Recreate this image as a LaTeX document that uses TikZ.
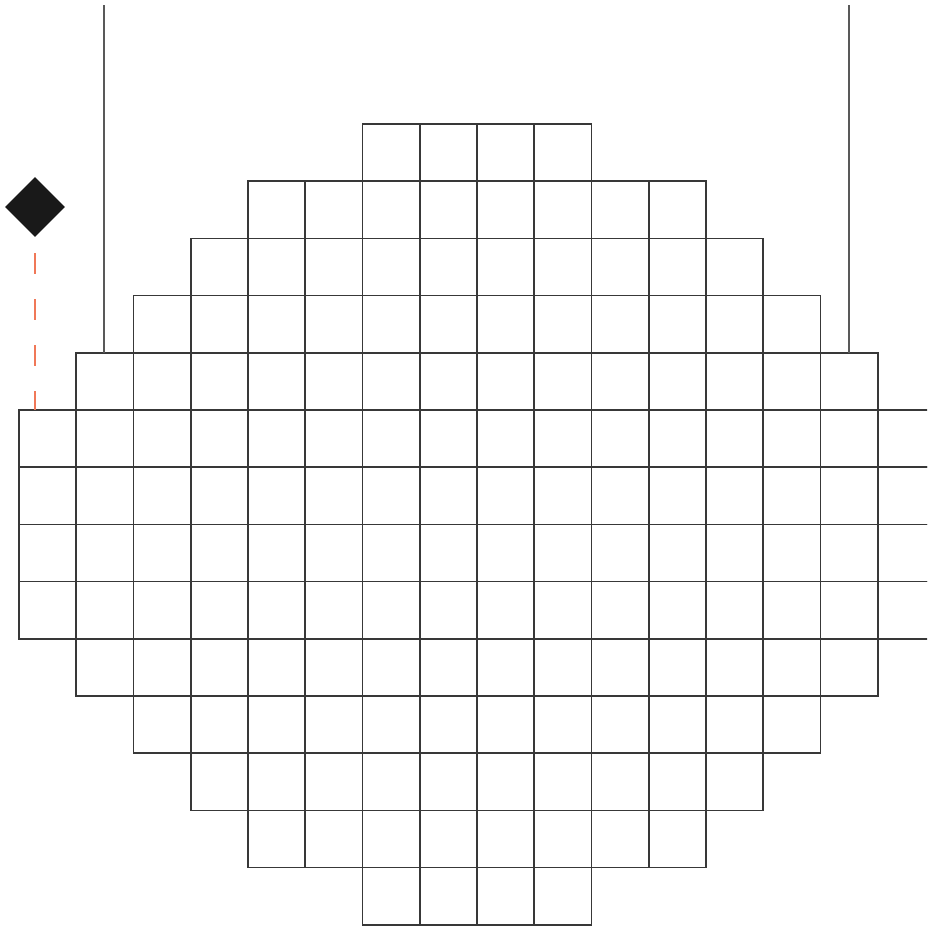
\documentclass[tikz,border=0pt]{standalone}
\usetikzlibrary{shapes.geometric}
\definecolor{dashorange}{RGB}{240,120,88}
\begin{document}
\begin{tikzpicture}[x=1pt,y=-1pt,
  cell/.style={draw=black!78,line width=1.6pt},
  post/.style={draw=black!65,line width=1.6pt},
  marker/.style={diamond,fill=black!90,draw=none,minimum width=60pt,minimum height=60pt,inner sep=0pt},
  lead/.style={draw=dashorange,line width=1.8pt,dash pattern=on 21pt off 25pt}]
\useasboundingbox (0,0) rectangle (927,929);
\begin{scope}
\clip (0,0) rectangle (927,929);
\foreach \r/\h in {0/2,1/4,2/5,3/6,4/7,5/8,6/8,7/8,8/8,9/7,10/6,11/5,12/4,13/2} {
  \pgfmathtruncatemacro{\n}{2*\h}
  \foreach \c in {1,...,\n} {
    \draw[cell] ({477+(\c-1-\h)*57.25},{124+\r*57.2}) rectangle ++(57.25,57.2);
  }
}
\end{scope}
\coordinate (p1top) at (104,5);
\coordinate (p1bot) at (104,353);
\coordinate (p2top) at (849,5);
\coordinate (p2bot) at (849,353);
\draw[post] (p1top) -- (p1bot);
\draw[post] (p2top) -- (p2bot);
\node[marker] (d) at (35,207) {};
\coordinate (dend) at (35,410);
\draw[lead] (35,253) -- (dend);
\end{tikzpicture}
\end{document}
